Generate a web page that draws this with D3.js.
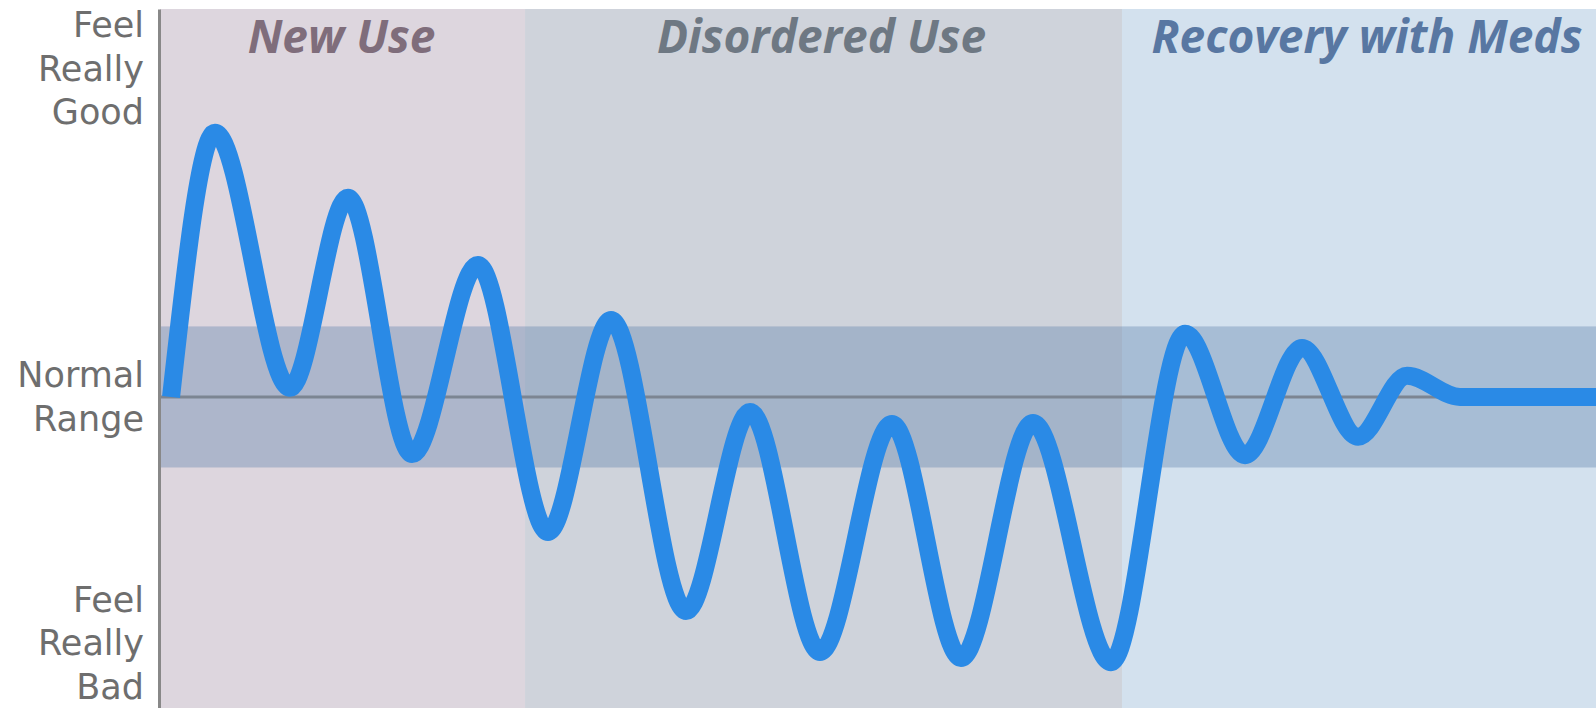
<!DOCTYPE html>
<html>
<head>
<meta charset="utf-8">
<script src="https://cdn.jsdelivr.net/npm/d3@7"></script>
<style>
  html, body { margin: 0; padding: 0; background: #ffffff; }
  svg { display: block; }
</style>
</head>
<body>
<svg id="chart" width="1596" height="708"></svg>
<script>
// ---------- data ----------
const phaseNames  = ["New Use", "Disordered Use", "Recovery with Meds"];
const phaseStarts = [0, 25.42, 66.99];
const phaseEnds   = [25.42, 66.99, 100];

// time (0-100) and mood (0 = normal, +/-2 = normal range bounds)
const curveTime = [0.77, 3.83, 9.05, 13.09, 17.55, 22.14, 27.02, 31.41, 36.63, 41.09,
                   45.96, 50.97, 55.78, 60.79, 66.23, 71.38, 75.56, 79.53, 83.43, 86.84,
                   90.53, 100];
const curveMood = [0, 7.49, 0.26, 5.65, -1.62, 3.74, -3.83, 2.18, -6.07, -0.43,
                   -7.23, -0.77, -7.40, -0.74, -7.52, 1.79, -1.65, 1.39, -1.13, 0.60,
                   0, 0];

const normalLow = -2, normalHigh = 2, normalValue = 0;

const axisLabels      = [["Feel", "Really", "Good"], ["Normal", "Range"], ["Feel", "Really", "Bad"]];
const axisLabelValues = [9.3, 0, -6.98];

// ---------- styles ----------
const phaseFill  = ["#ddd6de", "#cfd3db", "#d3e1ee"];
const phaseInk   = ["#7f6d7b", "#6e7883", "#5877a2"];
const titleShift = [-1, -2, 8];
const bandFill   = "rgba(88,124,170,0.36)";

// ---------- layout ----------
const plotLeft = 160, plotRight = 1596, plotTop = 9, plotBottom = 708;

const svg = d3.select("#chart");

const x = d3.scaleLinear().domain([0, 100]).range([plotLeft, plotRight]);
const y = d3.scaleLinear().domain([-8.82, 11.0]).range([plotBottom, plotTop]);

// phase backgrounds
svg.append("g").selectAll("rect")
  .data(phaseNames)
  .join("rect")
  .attr("x", (d, i) => x(phaseStarts[i]))
  .attr("y", plotTop)
  .attr("width", (d, i) => x(phaseEnds[i]) - x(phaseStarts[i]))
  .attr("height", plotBottom - plotTop)
  .attr("fill", (d, i) => phaseFill[i]);

// normal band
svg.append("rect")
  .attr("x", x(0))
  .attr("y", y(normalHigh))
  .attr("width", x(100) - x(0))
  .attr("height", y(normalLow) - y(normalHigh))
  .attr("fill", bandFill);

// normal line
svg.append("line")
  .attr("x1", x(0)).attr("x2", x(100))
  .attr("y1", y(normalValue)).attr("y2", y(normalValue))
  .attr("stroke", "#7c8592")
  .attr("stroke-width", 3);

// phase titles
svg.append("g").selectAll("text")
  .data(phaseNames)
  .join("text")
  .attr("x", (d, i) => (x(phaseStarts[i]) + x(phaseEnds[i])) / 2 + titleShift[i])
  .attr("y", 53)
  .attr("text-anchor", "middle")
  .attr("font-family", "'Open Sans', 'Noto Sans', sans-serif")
  .attr("font-weight", 700)
  .attr("font-style", "italic")
  .attr("font-size", 46)
  .attr("fill", (d, i) => phaseInk[i])
  .text(d => d);

// curve
const pts = curveTime.map((t, i) => [t, curveMood[i]]);
const line = d3.line()
  .x(d => x(d[0]))
  .y(d => y(d[1]))
  .curve(d3.curveMonotoneX);

svg.append("path")
  .attr("d", line(pts))
  .attr("fill", "none")
  .attr("stroke", "#2a8ae6")
  .attr("stroke-width", 18)
  .attr("stroke-linecap", "butt")
  .attr("stroke-linejoin", "round");

// y axis line
const yAxis = d3.axisLeft(y).tickValues([]).tickSize(0);
const gAxis = svg.append("g")
  .attr("transform", `translate(${plotLeft - 1},0)`)
  .call(yAxis);
gAxis.select(".domain")
  .attr("stroke", "#888888")
  .attr("stroke-width", 3);

// axis labels (one text element per label, one tspan per line)
const lh = 43.5;
const lab = svg.append("g")
  .attr("font-family", "'DejaVu Sans', sans-serif")
  .attr("font-size", 35)
  .attr("fill", "#6e6e6e")
  .attr("text-anchor", "end");
axisLabels.forEach((lines, i) => {
  const cy = y(axisLabelValues[i]);
  const n = lines.length;
  const t = lab.append("text")
    .attr("x", 144)
    .attr("y", cy - ((n - 1) / 2) * lh + 12);
  lines.forEach((s, j) => {
    t.append("tspan")
      .attr("x", 144)
      .attr("dy", j === 0 ? 0 : lh)
      .text(s);
  });
});
</script>
</body>
</html>
